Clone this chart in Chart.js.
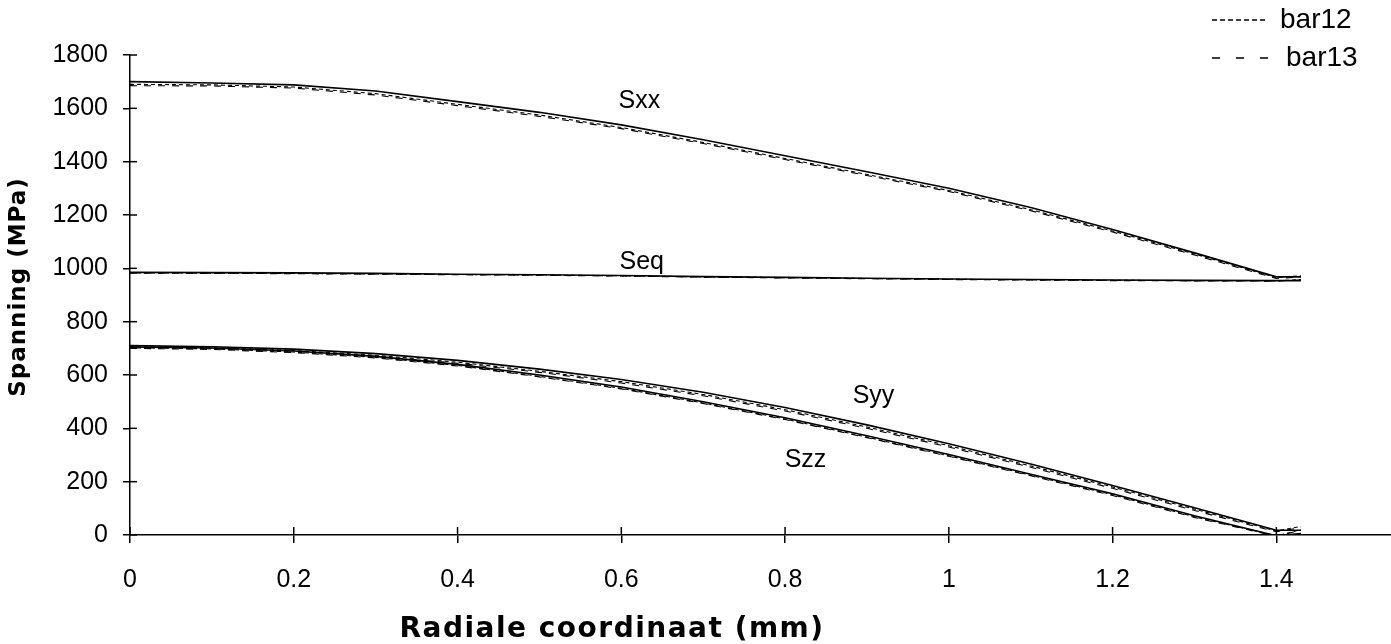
<!DOCTYPE html>
<html>
<head>
<meta charset="utf-8">
<script src="https://cdn.jsdelivr.net/npm/chart.js@4.4.1/dist/chart.umd.min.js"></script>
<style>
  html, body { margin: 0; padding: 0; background: #fff; }
  #wrap { position: relative; width: 1391px; height: 644px; }
</style>
</head>
<body>
<div id="wrap"><canvas id="c" width="1391" height="644"></canvas></div>
<script>
// Radial coordinate (mm)
const radius = [0, 0.1, 0.2, 0.3, 0.4, 0.5, 0.6, 0.7, 0.8, 0.9, 1.0, 1.1, 1.2, 1.3, 1.4, 1.43];

// Solid curves
const sxx = [1700, 1695, 1688, 1665, 1625, 1585, 1538, 1482, 1422, 1362, 1300, 1228, 1146, 1058, 968, 968];
const seq = [985, 984, 983, 981, 978, 976, 973, 969, 966, 963, 960, 958, 956, 955, 954, 954];
const syy = [710, 706, 697, 680, 655, 622, 583, 535, 478, 413, 342, 266, 186, 102, 18, 18];
const szz = [705, 701, 690, 670, 640, 600, 555, 500, 440, 372, 302, 228, 155, 72, -3, 5];

// bar12 (short dashes)
const sxxBar12 = [1690, 1688, 1680, 1655, 1615, 1575, 1528, 1472, 1412, 1352, 1292, 1220, 1140, 1054, 965, 972];
const seqBar12 = [983, 982, 981, 979, 977, 975, 972, 968, 965, 962, 959, 957, 955, 954, 953, 958];
const syyBar12 = [706, 702, 692, 674, 648, 614, 575, 527, 470, 405, 335, 259, 180, 97, 15, 32];
const szzBar12 = [702, 698, 686, 666, 636, 595, 550, 495, 435, 367, 297, 224, 151, 68, -3, 20];

// bar13 (long dashes)
const sxxBar13 = [1685, 1684, 1676, 1650, 1610, 1570, 1524, 1468, 1408, 1348, 1288, 1216, 1136, 1050, 962, 968];
const seqBar13 = [982, 981, 980, 978, 976, 974, 971, 967, 964, 961, 958, 956, 954, 953, 952, 956];
const syyBar13 = [704, 700, 689, 670, 644, 610, 570, 522, 465, 400, 330, 254, 175, 92, 12, 28];
const szzBar13 = [700, 696, 684, 664, 634, 593, 548, 493, 433, 365, 295, 222, 148, 66, -5, 18];

const xTicks = [0, 0.2, 0.4, 0.6, 0.8, 1, 1.2, 1.4];
const yTicks = [0, 200, 400, 600, 800, 1000, 1200, 1400, 1600, 1800];

const curveLabels = [
  { text: 'Sxx', x: 0.622, y: 1627 },
  { text: 'Seq', x: 0.625, y: 1024 },
  { text: 'Syy', x: 0.908, y: 521 },
  { text: 'Szz', x: 0.825, y: 281 }
];
const legendNames = ['bar12', 'bar13'];

const FONT = '"Liberation Sans", Arial, sans-serif';
const TITLE_FONT = '"DejaVu Sans", sans-serif';

function pts(arr) { return arr.map((v, i) => ({ x: radius[i], y: v })); }

const styles = {
  solid: { borderWidth: 1.6, borderDash: [] },
  bar12: { borderWidth: 1.1, borderDash: [4, 3] },
  bar13: { borderWidth: 1.1, borderDash: [7, 7] }
};
function ds(label, arr, kind) {
  return {
    label: label,
    data: pts(arr),
    borderColor: '#000',
    backgroundColor: '#000',
    borderWidth: styles[kind].borderWidth,
    borderDash: styles[kind].borderDash,
    pointRadius: 0,
    tension: 0,
    fill: false
  };
}

const datasets = [
  ds('Sxx', sxx, 'solid'), ds('Sxx bar12', sxxBar12, 'bar12'), ds('Sxx bar13', sxxBar13, 'bar13'),
  ds('Seq', seq, 'solid'), ds('Seq bar12', seqBar12, 'bar12'), ds('Seq bar13', seqBar13, 'bar13'),
  ds('Syy', syy, 'solid'), ds('Syy bar12', syyBar12, 'bar12'), ds('Syy bar13', syyBar13, 'bar13'),
  ds('Szz', szz, 'solid'), ds('Szz bar12', szzBar12, 'bar12'), ds('Szz bar13', szzBar13, 'bar13')
];

const decor = {
  id: 'decor',
  afterDraw(chart) {
    const ctx = chart.ctx;
    const xs = chart.scales.x, ys = chart.scales.y;
    const ax = xs.left, ay = ys.bottom;
    ctx.save();
    ctx.strokeStyle = '#000';
    ctx.lineWidth = 1.5;
    ctx.setLineDash([]);
    // inward tick halves
    ys.ticks.forEach(t => {
      const py = ys.getPixelForValue(t.value);
      ctx.beginPath(); ctx.moveTo(ax, py); ctx.lineTo(ax + 7, py); ctx.stroke();
    });
    xs.ticks.forEach(t => {
      const px = xs.getPixelForValue(t.value);
      ctx.beginPath(); ctx.moveTo(px, ay); ctx.lineTo(px, ay - 8); ctx.stroke();
    });
    // curve labels
    ctx.fillStyle = '#000';
    ctx.font = '25px ' + FONT;
    ctx.textAlign = 'center';
    ctx.textBaseline = 'middle';
    curveLabels.forEach(l => {
      ctx.fillText(l.text, xs.getPixelForValue(l.x), ys.getPixelForValue(l.y));
    });
    // axis titles
    ctx.font = 'bold 28px ' + TITLE_FONT;
    ctx.letterSpacing = '1.5px';
    ctx.fillText('Radiale coordinaat (mm)', 612, 630);
    ctx.save();
    ctx.translate(19, 287);
    ctx.rotate(-Math.PI / 2);
    ctx.font = 'bold 23px ' + TITLE_FONT;
    ctx.letterSpacing = '1px';
    ctx.fillText('Spanning (MPa)', 0, 0);
    ctx.restore();
    ctx.letterSpacing = '0px';
    // legend
    ctx.lineWidth = 1.4;
    ctx.setLineDash([5, 3]);
    ctx.beginPath(); ctx.moveTo(1212, 20); ctx.lineTo(1266, 20); ctx.stroke();
    ctx.setLineDash([8, 16]);
    ctx.beginPath(); ctx.moveTo(1212, 58); ctx.lineTo(1270, 58); ctx.stroke();
    ctx.setLineDash([]);
    ctx.font = '28px ' + FONT;
    ctx.textAlign = 'left';
    ctx.fillText(legendNames[0], 1280, 20);
    ctx.fillText(legendNames[1], 1286, 58);
    ctx.restore();
  }
};

new Chart(document.getElementById('c'), {
  type: 'line',
  data: { datasets: datasets },
  options: {
    responsive: false,
    animation: false,
    layout: { padding: { top: 55, left: 0, right: 0, bottom: 0 } },
    plugins: { legend: { display: false }, tooltip: { enabled: false } },
    scales: {
      x: {
        type: 'linear',
        min: 0, max: 1.54,
        afterFit(s) { s.height = 109; },
        afterBuildTicks(s) { s.ticks = xTicks.map(v => ({ value: v })); },
        ticks: {
          includeBounds: false,
          color: '#000',
          padding: 22,
          font: { family: FONT, size: 25 },
          maxRotation: 0,
          callback: v => String(Number(v.toFixed(2)))
        },
        grid: { drawOnChartArea: false, drawTicks: true, tickLength: 8, color: '#000', lineWidth: 1.5 },
        border: { display: true, color: '#000', width: 1.5 }
      },
      y: {
        type: 'linear',
        min: 0, max: 1800,
        afterFit(s) { s.width = 130; },
        afterBuildTicks(s) { s.ticks = yTicks.map(v => ({ value: v })); },
        ticks: {
          color: '#000',
          padding: 15,
          font: { family: FONT, size: 25 },
          callback: v => String(v)
        },
        grid: { drawOnChartArea: false, drawTicks: true, tickLength: 7, color: '#000', lineWidth: 1.5 },
        border: { display: true, color: '#000', width: 1.5 }
      }
    }
  },
  plugins: [decor]
});
</script>
</body>
</html>
